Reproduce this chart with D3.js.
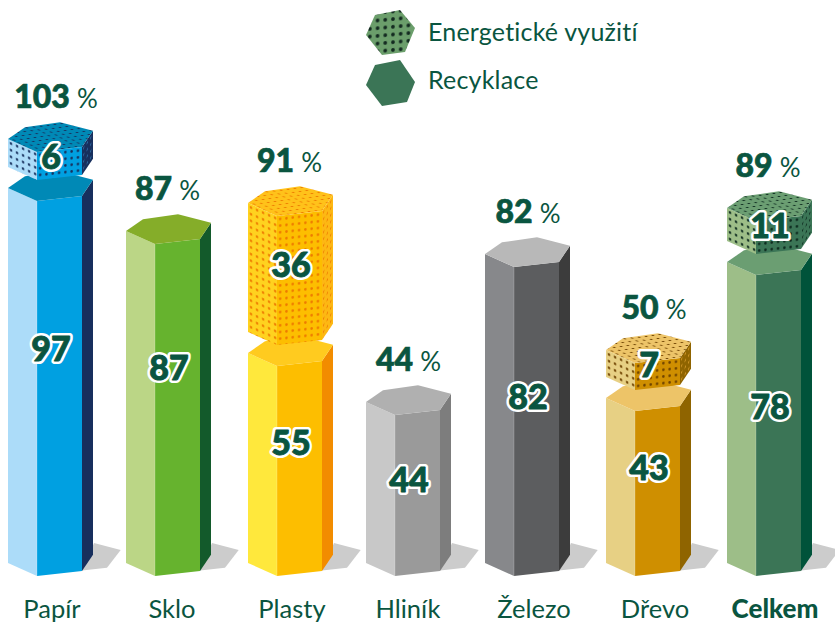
<!DOCTYPE html>
<html><head><meta charset="utf-8">
<script src="https://cdn.jsdelivr.net/npm/d3@7"></script>
<style>html,body{margin:0;padding:0;background:#fff}svg{display:block}text{font-family:Lato,sans-serif}</style>
</head><body><div id="c"></div>
<script>
const categories = ["Papír","Sklo","Plasty","Hliník","Železo","Dřevo","Celkem"];
const recycling  = [97,87,55,44,82,43,78];
const energy     = [6,0,36,0,0,7,11];
const totals     = [103,87,91,44,82,50,89];
const seriesNames = ["Energetické využití","Recyklace"];

const palettes = [
 {l:"#ACDCF9",f:"#00A0E1",r:"#172F5D",t:"#0089B6",d:"#172F5D",rd:"#2F6EA8"},
 {l:"#BBD686",f:"#66B32E",r:"#135A2B",t:"#85AD29",d:"#135A2B",rd:"#135A2B"},
 {l:"#FFE83C",f:"#FDBE00",r:"#F28C00",t:"#FFCB1F",d:"#EE7A00",rd:"#EE7A00",ur:"#FDB813",ul:"#FFD21F",ut:"#FFC21A"},
 {l:"#C8C8C8",f:"#9A9A9A",r:"#7D7D7D",t:"#B0B0B0",d:"#555",rd:"#555"},
 {l:"#87888B",f:"#5C5D5F",r:"#3C3C3C",t:"#B8B8B8",d:"#333",rd:"#333"},
 {l:"#E7D084",f:"#CF8F00",r:"#8F6400",t:"#EDC468",d:"#6E4200",rd:"#D89B2B"},
 {l:"#9DBE88",f:"#3B7556",r:"#00533A",t:"#6B9E72",d:"#0C2A1E",rd:"#0C2A1E",ur:"#3B7556"}
];
const ink = "#0A5540";

const W=835,H=623;
const svg=d3.select("#c").append("svg").attr("width",W).attr("height",H);
const defs=svg.append("defs");

const x=d3.scaleOrdinal().domain(categories).range([8,126,248,366,485,606,727]);
const labelX=d3.scaleOrdinal().domain(categories).range([52,172,292,408,534,655,775]);
const totalX=d3.scaleOrdinal().domain(categories).range([56,167.5,289.5,408.5,528,654,768]);
const baseY=563;
const hLower=d3.scaleLinear().domain([43,44,55,78,82,87,97]).range([165,161,210,301,309,332,375]);
const hUpper=d3.scaleLinear().domain([6,7,11,36]).range([28,27,33,129]);
const gap=21;

const topFace=[[0,0],[17,-11.7],[52,-16.7],[85,-8.3],[74,8],[29,13]];
const poly=a=>a.map(p=>p.join(",")).join(" ");
const at=(x0,y0,a)=>a.map(([dx,dy])=>[x0+dx,y0+dy]);

function pat(id,col,r,m,bg){
  const p=defs.append("pattern").attr("id",id).attr("patternUnits","userSpaceOnUse")
    .attr("width",7).attr("height",7).attr("patternTransform",`matrix(${m.join(",")})`);
  p.append("rect").attr("width",7).attr("height",7).attr("fill",bg);
  p.append("circle").attr("cx",3.5).attr("cy",3.5).attr("r",r).attr("fill",col);
}

function prism(g,x0,yT,h,c,dotted,i){
  const yB=yT+h;
  const faces={
    l:[[0,yT],[29,yT+13],[29,yB+13],[0,yB]],
    f:[[29,yT+13],[74,yT+8],[74,yB+8],[29,yB+13]],
    r:[[74,yT+8],[85,yT-8.3],[85,yB-8.3],[74,yB+8]]
  };
  const fills={l:c.l,f:c.f,r:c.r,t:c.t};
  if(dotted){
    const bg={l:c.ul||c.l,f:c.f,r:c.ur||c.r,t:c.ut||c.t};
    pat("pl"+i,c.d,1.4,[0.86,0.37,0,0.95,x0,yT],bg.l);
    pat("pf"+i,c.d,1.4,[0.9,-0.1,0,0.95,x0+29,yT+13],bg.f);
    pat("pr"+i,c.rd,1.2,[0.5,-0.72,0,0.95,x0+74,yT+8],bg.r);
    pat("pt"+i,c.d,1.3,[1,-0.12,0.72,0.42,x0,yT],bg.t);
    Object.keys(fills).forEach(k=>fills[k]=`url(#p${k}${i})`);
  }
  ["l","f","r"].forEach(k=>{
    g.append("polygon").attr("points",poly(faces[k].map(([dx,y])=>[x0+dx,y]))).attr("fill",fills[k]);
  });
  g.append("polygon").attr("points",poly(at(x0,yT,topFace))).attr("fill",fills.t);
  if(!dotted) g.append("line").attr("x1",x0+29).attr("x2",x0+29).attr("y1",yT+13).attr("y2",yB+13)
    .attr("stroke","#fff").attr("stroke-opacity",0.25).attr("stroke-width",0.8);
}

const g=svg.append("g");
categories.forEach((cat)=>{
  g.append("polygon").attr("points",poly(at(x(cat),baseY,[[74,7.5],[86,-20],[112.7,-13],[99,4.7]]))).attr("fill","#CCCCCC");
});
const tops=[];
categories.forEach((cat,i)=>{
  const c=palettes[i];
  const yT=baseY-hLower(recycling[i]);
  prism(g,x(cat),yT,hLower(recycling[i]),c,false,i);
  let yTop=yT;
  if(energy[i]>0){
    const h=hUpper(energy[i]);
    yTop=yT-gap-h;
    prism(g,x(cat),yTop,h,c,true,i);
  }
  tops.push(yTop);
});

const lowerLabelY=[349,368,443,480,397,468,407];
const upperLabelY=[157,null,265,null,null,365,226];
const val=(t,xx,yy)=>{
  g.append("text").attr("x",xx).attr("y",yy).attr("dy","0.36em").attr("text-anchor","middle")
   .attr("font-size",34).attr("font-weight",900).attr("fill","#fff").attr("stroke","#fff").attr("stroke-width",6)
   .attr("stroke-linejoin","round").text(t);
  g.append("text").attr("x",xx).attr("y",yy).attr("dy","0.36em").attr("text-anchor","middle")
   .attr("font-size",34).attr("font-weight",900).attr("fill",ink).attr("stroke",ink).attr("stroke-width",0.9)
   .attr("stroke-linejoin","round").text(t);
};
categories.forEach((cat,i)=>{
  const cx=x(cat)+43;
  val(recycling[i],cx,lowerLabelY[i]);
  if(energy[i]>0) val(energy[i],cx,upperLabelY[i]);
  const t=g.append("text").attr("x",totalX(cat)).attr("y",tops[i]-31).attr("text-anchor","middle").attr("fill",ink);
  t.append("tspan").attr("font-size",32).attr("font-weight",900).attr("stroke",ink).attr("stroke-width",0.7).text(totals[i]);
  t.append("tspan").attr("font-size",26).attr("font-weight",400).attr("dx",7).text("%");
  const bold=cat==="Celkem";
  g.append("text").attr("x",labelX(cat)).attr("y",618).attr("text-anchor","middle").attr("fill",ink)
    .attr("font-size",bold?26:25.5).attr("font-weight",bold?900:400).text(cat);
});

const legend=svg.append("g");
const hexE=[[366,35],[375,15],[400,10],[415,28],[405,52],[382,55]];
const hexR=[[366,85],[375,65],[400,60],[415,82],[407,102],[382,106]];
pat("legE","#12291F",1.7,[1.1,-0.1,0,1.1,366,10],"#6B9E6B");
legend.append("polygon").attr("points",poly(hexE)).attr("fill","url(#legE)");
legend.append("polygon").attr("points",poly(hexR)).attr("fill","#3B7556");
seriesNames.forEach((n,i)=>legend.append("text").attr("x",428).attr("y",41+i*48).attr("fill",ink)
  .attr("font-size",25).attr("letter-spacing",0.2).text(n));
</script></body></html>
